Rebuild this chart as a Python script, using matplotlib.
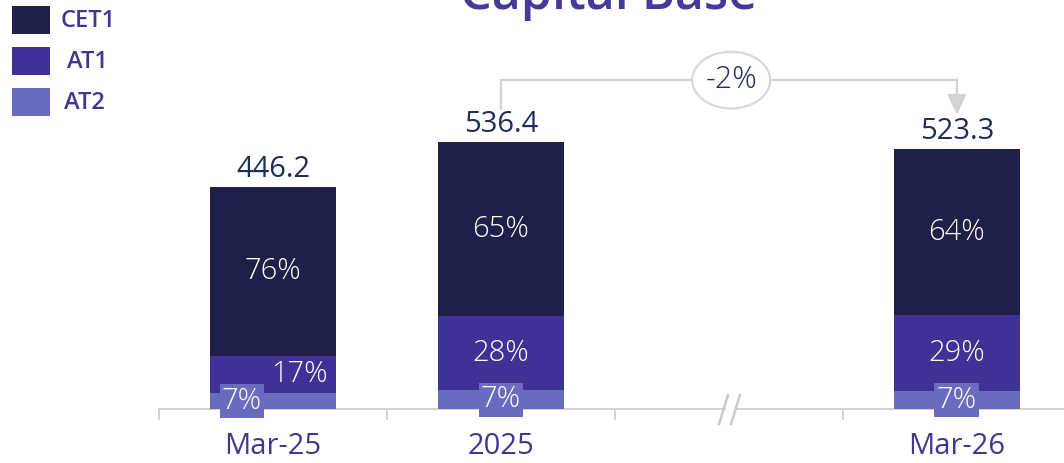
import matplotlib
matplotlib.use('Agg')
import matplotlib.pyplot as plt
from matplotlib.patches import Rectangle, Ellipse
import matplotlib.transforms as mtransforms

plt.rcParams['font.family'] = ['Open Sans', 'DejaVu Sans']

# 데이터
slots = ['Mar-25', '2025', '', 'Mar-26']   # 세 번째 칸은 축 끊김(//) 자리
totals = [446.2, 536.4, 523.3]
cet1_pct = [76, 65, 64]
at1_pct = [17, 28, 29]
at2_pct = [7, 7, 7]
change_label = '-2%'
series_names = ['CET1', 'AT1', 'AT2']

# 색
c_cet1 = '#1f2049'
c_at1 = '#3e3296'
c_at2 = '#696cbe'
c_purple = '#3f3792'
c_navy = '#1f2d5a'
c_grey = '#c9c9c9'

W, H = 1064, 463
fig = plt.figure(figsize=(W / 100, H / 100), dpi=100)
ax = fig.add_axes([159 / W, (H - 409) / H, 1 - 159 / W, 409 / H])

x = [i for i, s in enumerate(slots) if s]
labels = [s for s in slots if s]
cet1 = [t * p / 100 for t, p in zip(totals, cet1_pct)]
at1 = [t * p / 100 for t, p in zip(totals, at1_pct)]
at2 = [t * p / 100 for t, p in zip(totals, at2_pct)]
bot_at1 = at2
bot_cet1 = [a + b for a, b in zip(at2, at1)]

bw = 0.553
ax.bar(x, at2, width=bw, color=c_at2, zorder=3)
ax.bar(x, at1, width=bw, bottom=bot_at1, color=c_at1, zorder=3)
ax.bar(x, cet1, width=bw, bottom=bot_cet1, color=c_cet1, zorder=3)

ax.set_xlim(-0.5, 3.47)
ax.set_ylim(0, 822)

for s in ['top', 'right', 'left']:
    ax.spines[s].set_visible(False)
ax.spines['bottom'].set_color(c_grey)
ax.spines['bottom'].set_linewidth(1.2)
ax.set_yticks([])
ax.set_xticks([-0.5, 0.5, 1.5, 2.5])
ax.set_xticklabels([])
ax.tick_params(axis='x', length=8, width=1.2, color=c_grey, direction='out')

# 카테고리 라벨
trans = mtransforms.blended_transform_factory(ax.transData, fig.transFigure)
for xi, lab in zip(x, labels):
    ax.text(xi, 1 - 447 / H, lab, transform=trans, ha='center', va='center',
            fontsize=21, color=c_purple)

# 합계 라벨
for xi, t in zip(x, totals):
    ax.annotate(f'{t:.1f}', (xi, t), xytext=(0, 7), textcoords='offset points',
                ha='center', va='baseline', fontsize=21, color=c_navy)

# 비율 라벨
for i, xi in enumerate(x):
    ax.text(xi, bot_cet1[i] + cet1[i] / 2, f'{cet1_pct[i]}%', ha='center', va='center',
            fontsize=21, color='white', fontweight='light', zorder=5)
    if i == 0:
        ax.annotate(f'{at1_pct[i]}%', (xi + bw / 2, bot_at1[i] + at1[i] / 2), xytext=(-6, 0),
                    textcoords='offset points', ha='right', va='center',
                    fontsize=21, color='white', fontweight='light', zorder=5)
        x7 = xi - 0.136
    else:
        ax.text(xi, bot_at1[i] + at1[i] / 2, f'{at1_pct[i]}%', ha='center', va='center',
                fontsize=21, color='white', fontweight='light', zorder=5)
        x7 = xi
    ax.text(x7, at2[i] / 2, f'{at2_pct[i]}%', ha='center', va='center',
            fontsize=21, color='white', fontweight='light', zorder=6,
            bbox=dict(boxstyle='square,pad=0.08', fc=c_at2, ec='none'), clip_on=False)

# 변화율 화살표
y_line = 661
ax.plot([x[1], x[1], x[2]], [totals[1] + 67, y_line, y_line], color='#d3d3d3', lw=1.6,
        zorder=2, solid_joinstyle='miter')
ax.annotate('', xy=(x[2], totals[2] + 68), xytext=(x[2], y_line + 1),
            arrowprops=dict(arrowstyle='-|>,head_length=0.62,head_width=0.29',
                            color='#d3d3d3', lw=1.6, mutation_scale=20, shrinkA=0, shrinkB=0))
ax.add_patch(Ellipse((2.01, y_line), 0.342, 114, fc='white', ec='#d8d8d8', lw=1.6, zorder=4))
ax.text(2.01, y_line, change_label, ha='center', va='center', fontsize=22,
        color=c_navy, fontweight='light', zorder=5)

# 축 끊김 표시 //
def px(xp, yp):
    return (xp / W, 1 - yp / H)

fig.add_artist(plt.Line2D([px(727, 409)[0], px(733, 409)[0]], [px(0, 409)[1]] * 2,
                          color='white', lw=2.5, transform=fig.transFigure))
for x0 in [719, 731]:
    p1 = px(x0, 424)
    p2 = px(x0 + 9, 395)
    fig.add_artist(plt.Line2D([p1[0], p2[0]], [p1[1], p2[1]], color=c_grey, lw=1.8,
                              transform=fig.transFigure))

# 제목 (원본에서도 위쪽이 잘려 있음)
fig.text(609 / W, 1 - 9 / H, 'Capital Base', ha='center', va='baseline',
         fontsize=36, color='#433a99', fontweight='semibold')

# 범례
legend_colors = [c_cet1, c_at1, c_at2]
legend_tops = [6, 47, 88]
legend_text_x = [61, 67, 64]
for name, col, top, tx in zip(series_names, legend_colors, legend_tops, legend_text_x):
    fig.add_artist(Rectangle(px(12, top + 28), 38 / W, 28 / H, transform=fig.transFigure,
                             fc=col, ec='none'))
    fig.text(tx / W, 1 - (top + 15) / H, name, ha='left', va='center', fontsize=17,
             color=c_purple, fontweight='semibold')

fig.savefig('out.png', dpi=100)
